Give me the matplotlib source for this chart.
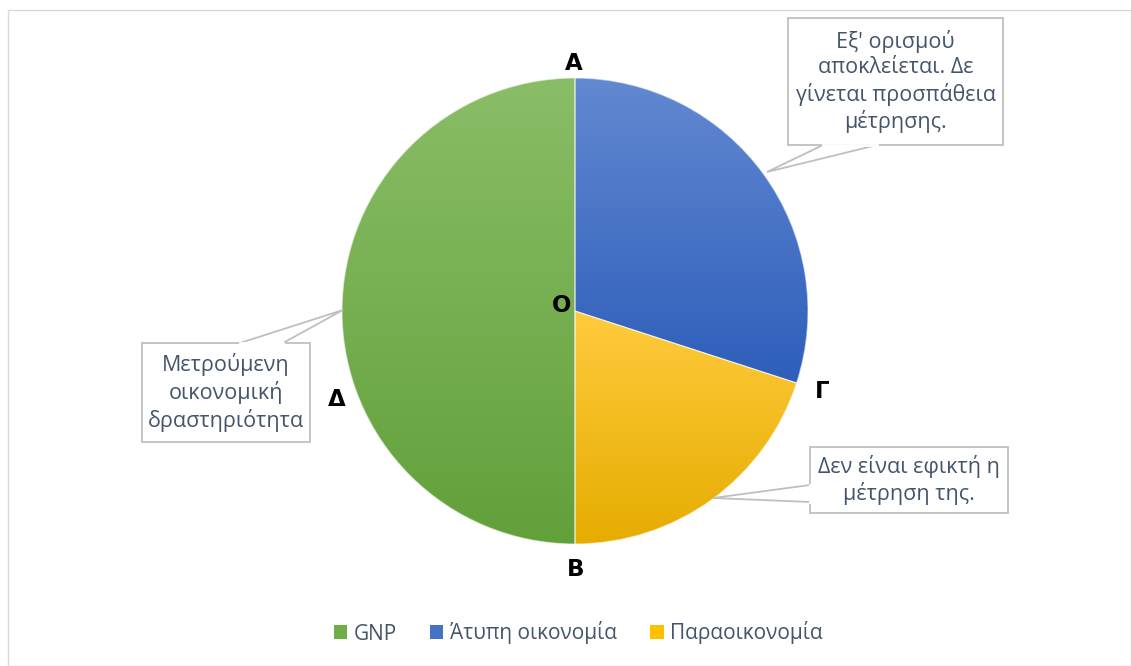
import numpy as np
import matplotlib
matplotlib.use("Agg")
import matplotlib.pyplot as plt
from matplotlib.patches import Polygon, Rectangle, Wedge

plt.rcParams["font.family"] = ["Open Sans", "DejaVu Sans"]

# ---- data ----
categories = ["GNP", "Άτυπη οικονομία", "Παραοικονομία"]
values = [50, 30, 20]
top_colors = ["#8ABD67", "#6289D1", "#FFCB3D"]
bottom_colors = ["#62A03A", "#2E5EBB", "#E6AC00"]
legend_colors = ["#70AD47", "#4472C4", "#FFC000"]

callouts = [
    "Μετρούμενη\nοικονομική\nδραστηριότητα",
    "Εξ' ορισμού\nαποκλείεται. Δε\nγίνεται προσπάθεια\nμέτρησης.",
    "Δεν είναι εφικτή η\nμέτρηση της.",
]
point_labels = ["A", "O", "Γ", "B", "Δ"]

W, H = 1131, 666
TEXT = "#44546A"

fig = plt.figure(figsize=(W / 100, H / 100), dpi=100)
ax = fig.add_axes([0, 0, 1, 1])

cx, cy, r = 575, H - 311, 233
wedges, _ = ax.pie(values, startangle=-90, counterclock=False,
                   center=(cx, cy), radius=r,
                   wedgeprops=dict(linewidth=0))
ax.set_xlim(0, W)
ax.set_ylim(0, H)
ax.set_aspect("equal")
ax.axis("off")

# vertical gradient in each slice
for w, c1, c2 in zip(wedges, top_colors, bottom_colors):
    w.set_facecolor(c1)
    bb = w.get_path().get_extents(w.get_patch_transform())
    a = np.array(matplotlib.colors.to_rgb(c1))
    b = np.array(matplotlib.colors.to_rgb(c2))
    t = np.linspace(0, 1, 256)[:, None]
    grad = (a * (1 - t) + b * t)[:, None, :]
    im = ax.imshow(grad, extent=(bb.x0, bb.x1, bb.y0, bb.y1), origin="upper",
                   aspect="auto", zorder=2, interpolation="bilinear")
    im.set_clip_path(w)
    edge = Wedge(w.center, w.r, w.theta1, w.theta2, fill=False,
                 edgecolor="white", linewidth=0.8, alpha=0.6, zorder=3)
    ax.add_patch(edge)
ax.set_xlim(0, W)
ax.set_ylim(0, H)


def callout(x0, x1, y0, y1, pointer, text):
    # pointer: list of 3 points (base1, tip, base2) in image coords
    pts = [(x0, y0), (x1, y0), (x1, y1), (x0, y1)]
    poly = Polygon([(x, H - y) for x, y in pts], closed=True, fc="white",
                   ec="#BFBFBF", lw=1.3, zorder=4)
    ax.add_patch(poly)
    tri = Polygon([(x, H - y) for x, y in pointer], closed=False, fc="white",
                  ec="#BFBFBF", lw=1.3, zorder=4.1)
    ax.add_patch(tri)
    (bx1, by1), _, (bx2, by2) = pointer
    ax.plot([bx1, bx2], [H - by1, H - by2], color="white", lw=2, zorder=4.2)
    ax.text((x0 + x1) / 2, H - (y0 + y1) / 2, text, ha="center", va="center",
            fontsize=15.5, color=TEXT, linespacing=1.25, zorder=5)


callout(142, 310, 343, 442, [(240, 343), (343, 310), (283, 343)], callouts[0])
callout(788, 1003, 18, 145, [(823, 145), (767, 172), (877, 145)], callouts[1])
callout(810, 1008, 447, 513, [(810, 485), (713, 498), (810, 502)], callouts[2])

# point labels
pos = [(574, 63), (562, 306), (822, 391), (576, 569), (337, 400)]
for lab, (x, y) in zip(point_labels, pos):
    ax.text(x, H - y, lab, ha="center", va="center", fontsize=16.5,
            fontweight="bold", color="black", family="DejaVu Sans", zorder=6)

# legend
handles = [Rectangle((0, 0), 1, 1, fc=c, ec="none") for c in legend_colors]
leg = fig.legend(handles, categories, loc="center", ncol=3,
                 bbox_to_anchor=(578 / W, 1 - 633 / H), frameon=False,
                 fontsize=15, handlelength=0.65, handleheight=0.65,
                 handletextpad=0.3, columnspacing=1.6)
for t in leg.get_texts():
    t.set_color(TEXT)

# chart border
fig.patches.append(Rectangle((8 / W, 0), 1 - 8 / W, 1 - 10 / H,
                             transform=fig.transFigure, fill=False,
                             ec="#D9D9D9", lw=1))

fig.savefig("out.png", dpi=100)
